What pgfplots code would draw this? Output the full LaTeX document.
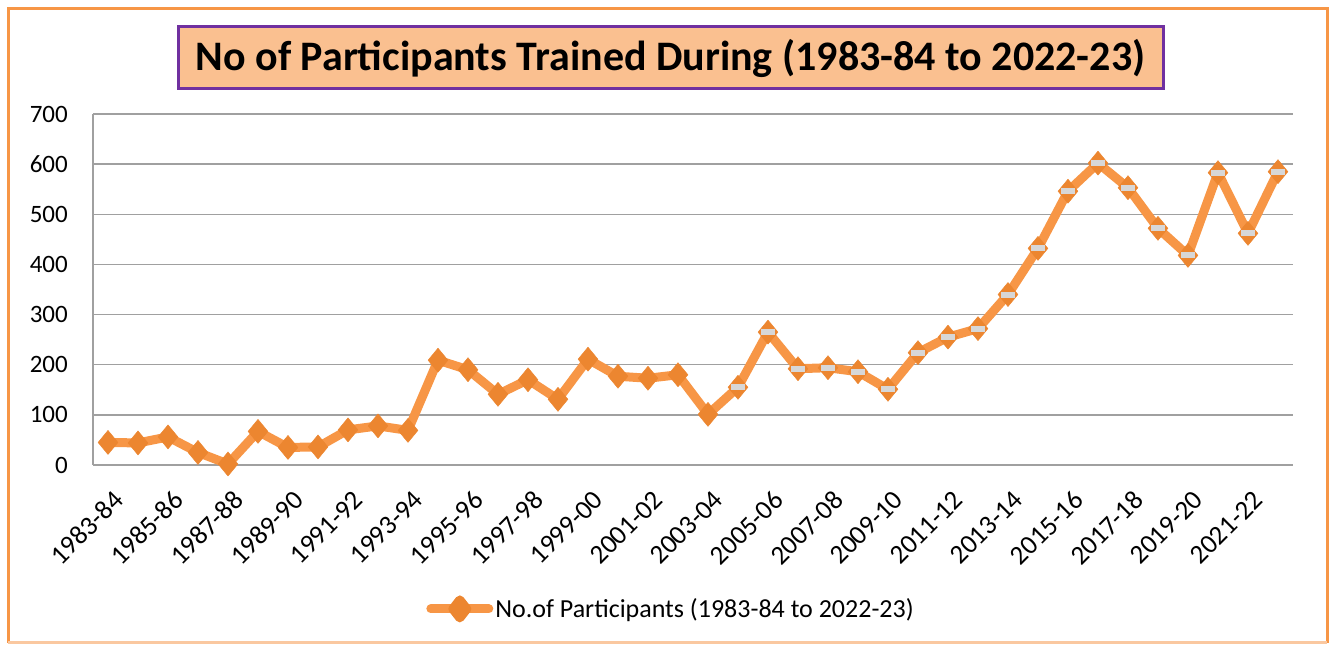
\documentclass[border=0pt]{standalone}
\usepackage{pgfplots}
\pgfplotsset{compat=1.18}
\usepackage{fontspec}
\setmainfont{Carlito}
\definecolor{lineor}{RGB}{247,150,70}
\definecolor{markor}{RGB}{236,134,48}
\definecolor{framepeach}{RGB}{250,200,160}
\definecolor{titlefill}{RGB}{250,192,144}
\definecolor{titledraw}{RGB}{112,48,160}
\definecolor{gridgray}{RGB}{160,160,160}
\definecolor{bandgray}{RGB}{215,215,215}
\begin{document}
\begin{tikzpicture}
\path[use as bounding box] (0bp,0bp) rectangle (1330bp,645bp);
% outer frame
\draw[lineor, line width=3bp] (8bp,2bp) -- (8bp,636bp) -- (1327bp,636bp) -- (1327bp,2bp);
\draw[framepeach, line width=3bp] (8bp,2bp) -- (1327bp,2bp);
% title
\node[draw=titledraw, line width=3bp, fill=titlefill, minimum width=985bp, minimum height=62bp, inner sep=0pt,
  font=\fontsize{42bp}{46bp}\selectfont\bfseries] at (670.5bp,587bp) {No of Participants Trained During (1983-84 to 2022-23)};
\begin{axis}[
  at={(93bp,180bp)}, anchor=south west,
  scale only axis, width=1200bp, height=351bp,
  xmin=-0.5, xmax=39.5, ymin=0, ymax=700,
  clip=false,
  axis lines*=left,
  axis line style={gridgray, line width=1.2bp},
  ymajorgrids, grid style={gridgray, line width=1.5bp},
  major tick length=0pt,
  ytick={0,100,...,700},
  xtick={0,2,...,38},
  xticklabels={1983-84,1985-86,1987-88,1989-90,1991-92,1993-94,1995-96,1997-98,1999-00,2001-02,2003-04,2005-06,2007-08,2009-10,2011-12,2013-14,2015-16,2017-18,2019-20,2021-22},
  xticklabel style={anchor=north east, inner sep=0pt, xshift=4bp, yshift=-24bp, rotate=45, font=\fontsize{27bp}{30bp}\selectfont},
  yticklabel style={anchor=east, inner sep=0pt, xshift=-25bp, font=\fontsize{25bp}{30bp}\selectfont},
  /pgf/number format/assume math mode=true,
  legend style={at={(0.4817,-0.41)}, anchor=center, draw=none, fill=none,
    font=\fontsize{26bp}{30bp}\selectfont, inner sep=0pt,
    /tikz/every odd column/.append style={column sep=0bp}},
  legend image code/.code={%
    \draw[#1, mark=none] (0bp,0bp) -- (58bp,0bp);
    \fill[markor] (29bp,-9bp) -- (36bp,0bp) -- (29bp,9bp) -- (22bp,0bp) -- cycle;},
]
\addplot[lineor, line width=9bp, line join=round, line cap=round, mark=diamond*, mark size=12bp,
  mark options={fill=markor, draw=markor, line width=0.5bp, xscale=1.1}]
coordinates {
(0,45) (1,44) (2,56) (3,25) (4,2) (5,67) (6,35) (7,36) (8,70) (9,78)
(10,69) (11,209) (12,190) (13,141) (14,170) (15,131) (16,211) (17,177) (18,173) (19,180)
(20,101) (21,155) (22,265) (23,192) (24,194) (25,186) (26,151) (27,224) (28,255) (29,272)
(30,340) (31,432) (32,546) (33,602) (34,553) (35,472) (36,418) (37,583) (38,462) (39,585)
};
\addlegendentry{No.of Participants (1983-84 to 2022-23)}
\addplot[forget plot, only marks, mark=-, mark size=7bp,
  mark options={draw=bandgray, line width=6bp}]
coordinates {
(21,155) (22,265) (23,192) (24,194) (25,186) (26,151) (27,224) (28,255) (29,272)
(30,340) (31,432) (32,546) (33,602) (34,553) (35,472) (36,418) (37,583) (38,462) (39,585)
};
\end{axis}
\end{tikzpicture}
\end{document}
